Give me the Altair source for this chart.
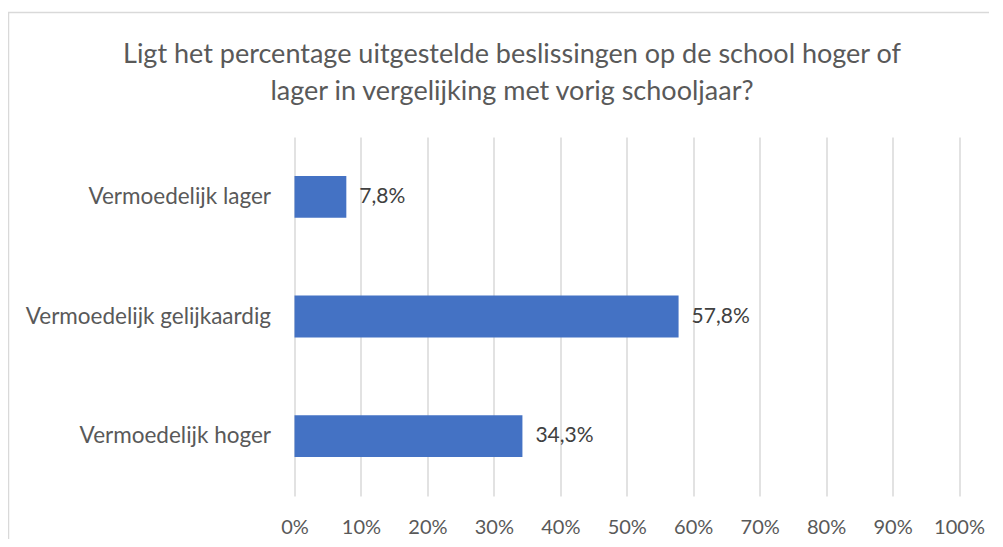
import altair as alt
import pandas as pd

categories = ["Vermoedelijk lager", "Vermoedelijk gelijkaardig", "Vermoedelijk hoger"]
values = [7.8, 57.8, 34.3]
tick_values = [0, 10, 20, 30, 40, 50, 60, 70, 80, 90, 100]
title_lines = [
    "Ligt het percentage uitgestelde beslissingen op de school hoger of",
    "lager in vergelijking met vorig schooljaar?",
]

df = pd.DataFrame({
    "categorie": categories,
    "waarde": values,
    "label": [f"{v:.1f}%".replace(".", ",") for v in values],
})

FONT = "Lato"
TXT = "#595959"

x_enc = alt.X(
    "waarde:Q",
    scale=alt.Scale(domain=[0, 100], nice=False),
    axis=alt.Axis(
        values=tick_values,
        labelExpr="datum.value + '%'",
        labelOverlap=False,
        labelFlush=False,
        grid=True,
        gridColor="#d9d9d9",
        gridWidth=1.5,
        domain=False,
        ticks=False,
        labelPadding=21,
        labelFontSize=20,
        labelColor=TXT,
        labelFont=FONT,
        title=None,
    ),
)
y_enc = alt.Y(
    "categorie:N",
    sort=categories,
    scale=alt.Scale(paddingInner=0.65, paddingOuter=0.325),
    axis=alt.Axis(
        domain=False,
        ticks=False,
        labelPadding=24,
        labelLimit=400,
        labelFontSize=22.5,
        labelColor=TXT,
        labelFont=FONT,
        title=None,
    ),
)

base = alt.Chart(df)
bars = base.mark_bar(color="#4472C4").encode(x=x_enc, y=y_enc)
labels = base.mark_text(
    align="left", baseline="middle", dx=13, fontSize=21, font=FONT, color="#404040"
).encode(x="waarde:Q", y=alt.Y("categorie:N", sort=categories), text="label:N")

one = alt.Data(values=[{}])
border = alt.Chart(one).mark_rect(
    fillOpacity=0, stroke="#d9d9d9", strokeWidth=1.5, clip=False
).encode(
    x=alt.value(-286),
    x2=alt.value(1000),
    y=alt.value(-124.5),
    y2=alt.value(1000),
)
title = alt.Chart(one).mark_text(
    align="center", baseline="middle", fontSize=27, lineHeight=37,
    font=FONT, color=TXT,
).encode(
    x=alt.value(217.5),
    y=alt.value(-82),
    text=alt.value(title_lines),
)

chart = alt.layer(border, title, bars, labels).properties(
    width=664.5,
    height=359,
    autosize=alt.AutoSizeParams(type="none"),
    padding={"left": 286.5, "top": 129, "right": 30, "bottom": 43},
).configure_view(stroke=None)

chart.save("out.html", embed_options={"renderer": "svg", "actions": False})
